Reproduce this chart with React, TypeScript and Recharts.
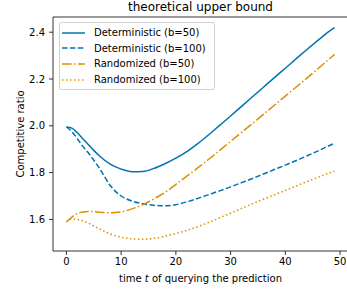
import { LineChart, Line, XAxis, YAxis, ReferenceLine, Legend } from "recharts";

// time of querying the prediction
const times = [0, 1, 2, 3, 4, 5, 6, 8, 10, 12, 14, 16, 18, 20, 22, 24, 26, 28, 30, 32, 34, 36, 38, 40, 42, 44, 46, 48, 49];

const detB50 = [1.995, 1.99, 1.97, 1.945, 1.92, 1.895, 1.872, 1.836, 1.815, 1.804, 1.805, 1.818, 1.838, 1.862, 1.89, 1.924, 1.962, 2.002, 2.042, 2.083, 2.124, 2.165, 2.206, 2.246, 2.287, 2.327, 2.366, 2.404, 2.42];
const detB100 = [1.995, 1.975, 1.945, 1.912, 1.885, 1.853, 1.82, 1.745, 1.7, 1.678, 1.667, 1.66, 1.658, 1.663, 1.675, 1.69, 1.706, 1.722, 1.739, 1.757, 1.775, 1.794, 1.813, 1.832, 1.852, 1.872, 1.893, 1.915, 1.926];
const randB50 = [1.589, 1.61, 1.625, 1.632, 1.634, 1.633, 1.631, 1.628, 1.632, 1.645, 1.663, 1.688, 1.715, 1.75, 1.785, 1.82, 1.857, 1.895, 1.933, 1.972, 2.01, 2.049, 2.088, 2.127, 2.166, 2.205, 2.245, 2.285, 2.305];
const randB100 = [1.59, 1.602, 1.6, 1.594, 1.584, 1.572, 1.56, 1.538, 1.524, 1.517, 1.515, 1.519, 1.528, 1.54, 1.553, 1.569, 1.587, 1.607, 1.627, 1.647, 1.667, 1.686, 1.705, 1.724, 1.743, 1.762, 1.78, 1.798, 1.806];

const seriesNames = ["Deterministic (b=50)", "Deterministic (b=100)", "Randomized (b=50)", "Randomized (b=100)"];
const xTicks = [0, 10, 20, 30, 40, 50];
const yTicks = [1.6, 1.8, 2.0, 2.2, 2.4];

const BLUE = "#0173b2";
const ORANGE = "#de8f05";
const FONT = "DejaVu Sans";

const styles = [
  { key: "detB50", color: BLUE, dash: undefined },
  { key: "detB100", color: BLUE, dash: "5.5 2.4" },
  { key: "randB50", color: ORANGE, dash: "9.6 2.4 1.5 2.4" },
  { key: "randB100", color: ORANGE, dash: "1.5 2.5" },
];

const data = times.map((t, i) => ({
  t,
  detB50: detB50[i],
  detB100: detB100[i],
  randB50: randB50[i],
  randB100: randB100[i],
}));

function LegendBox() {
  return (
    <div
      style={{
        width: 154,
        height: 64,
        border: "1px solid #d0d0d0",
        borderRadius: 3,
        background: "rgba(255,255,255,0.8)",
        fontFamily: FONT,
        fontSize: 10,
        color: "#000",
        paddingTop: 2,
        boxSizing: "content-box",
      }}
    >
      {seriesNames.map((name, i) => (
        <div key={name} style={{ height: 15.6, display: "flex", alignItems: "center" }}>
          <svg width={34} height={10} style={{ flex: "none" }}>
            <line
              x1={2}
              x2={25}
              y1={5}
              y2={5}
              stroke={styles[i].color}
              strokeWidth={1.5}
              strokeDasharray={styles[i].dash}
            />
          </svg>
          <span style={{ whiteSpace: "nowrap" }}>{name}</span>
        </div>
      ))}
    </div>
  );
}

export default function App() {
  return (
    <div
      style={{
        position: "absolute",
        left: 0,
        top: 0,
        width: 347,
        height: 291,
        overflow: "hidden",
        background: "#fff",
        fontFamily: FONT,
      }}
    >
      <div
        style={{
          position: "absolute",
          left: 53,
          width: 295,
          top: 0,
          textAlign: "center",
          fontSize: 12,
          lineHeight: "15px",
          color: "#000",
        }}
      >
        theoretical upper bound
      </div>
      <LineChart width={348} height={291} data={data} margin={{ top: 17, right: 0, bottom: 0, left: 0 }}>
        <XAxis
          dataKey="t"
          type="number"
          domain={[-2.45, 51.45]}
          ticks={xTicks}
          allowDataOverflow
          height={40}
          stroke="#000"
          strokeWidth={0.8}
          tickSize={4}
          tickMargin={3}
          tick={{ fontSize: 10, fill: "#000", fontFamily: FONT }}
          label={() => (
            <text x={200.5} y={278} textAnchor="middle" dominantBaseline="central" fontSize={10} fontFamily={FONT} fill="#000">
              time <tspan fontStyle="italic">t</tspan> of querying the prediction
            </text>
          )}
        />
        <YAxis
          type="number"
          domain={[1.465, 2.465]}
          ticks={yTicks}
          allowDataOverflow
          width={53}
          stroke="#000"
          strokeWidth={0.8}
          tickSize={4}
          tickMargin={4}
          tickFormatter={(v: number) => v.toFixed(1)}
          tick={{ fontSize: 10, fill: "#000", fontFamily: FONT }}
          label={() => (
            <text
              x={20}
              y={134}
              transform="rotate(-90 20 134)"
              textAnchor="middle"
              dominantBaseline="central"
              fontSize={10}
              fontFamily={FONT}
              fill="#000"
            >
              Competitive ratio
            </text>
          )}
        />
        <ReferenceLine y={2.465} stroke="#000" strokeWidth={0.8} />
        {styles.map((s, i) => (
          <Line
            key={s.key}
            dataKey={s.key}
            name={seriesNames[i]}
            type="monotone"
            stroke={s.color}
            strokeWidth={1.5}
            strokeDasharray={s.dash}
            dot={false}
            activeDot={false}
            isAnimationActive={false}
          />
        ))}
        <Legend
          layout="horizontal"
          verticalAlign="middle"
          align="center"
          wrapperStyle={{ left: 59, top: 22, width: 156, height: 66 }}
          content={() => <LegendBox />}
        />
      </LineChart>
    </div>
  );
}
